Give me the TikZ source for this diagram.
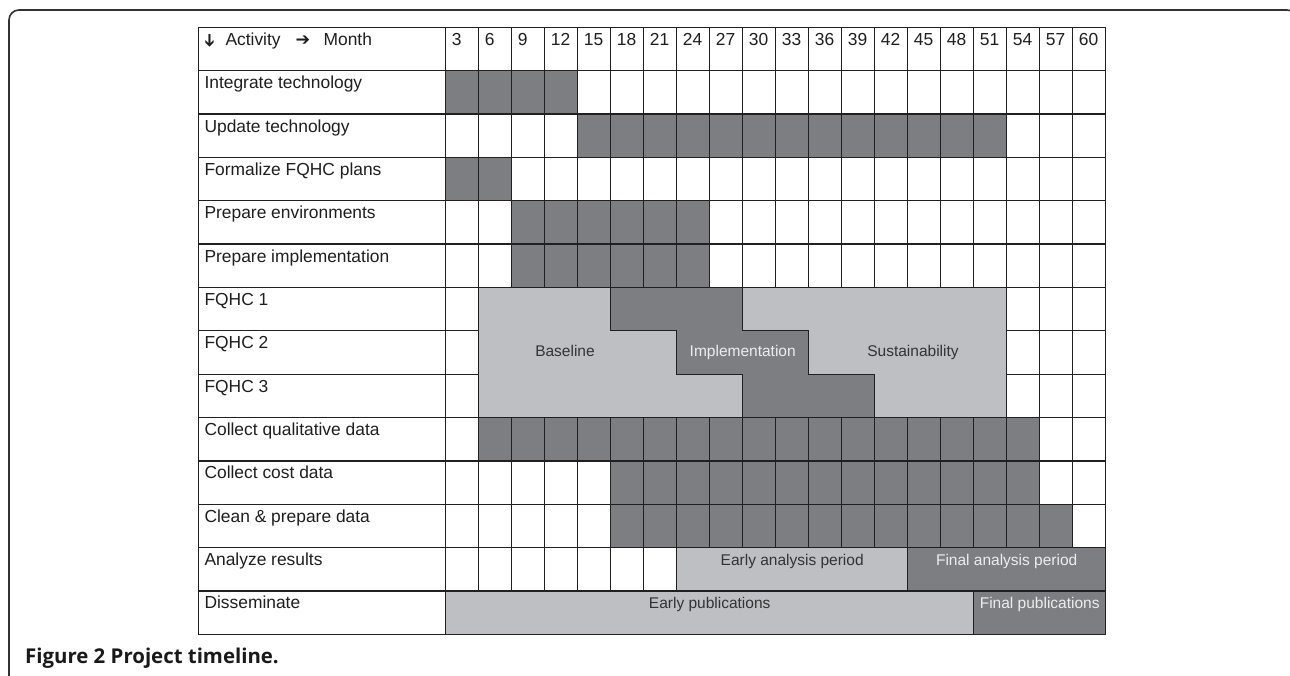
\documentclass[tikz,border=0pt]{standalone}
\usepackage{fontspec}
\setmainfont{Liberation Sans}
\newfontfamily\capfont{Open Sans}
\newfontfamily\symfont{DejaVu Sans}
\definecolor{BarClr}{rgb}{0.49,0.494,0.51}
\definecolor{PhaseClr}{rgb}{0.745,0.749,0.765}
\definecolor{RuleClr}{rgb}{0.13,0.12,0.125}

\begin{document}
\begin{tikzpicture}[x=1pt,y=-1pt,
  grid line/.style={draw=RuleClr,line width=1.3pt},
  bar/.style={fill=BarClr},
  phase/.style={fill=PhaseClr},
  cell text/.style={anchor=base west,inner sep=0pt,font=\fontsize{17.4}{20}\selectfont,text=black!88},
  phase text/.style={anchor=base,inner sep=0pt,font=\fontsize{15.5}{18}\selectfont,text=black!80},
  bar text/.style={phase text,text=white!93!black}]
\useasboundingbox (0,0) rectangle (1290,676);
\clip (0,0) rectangle (1290,676);
\fill[white] (0,0) rectangle (1290,676);

% frame and caption
\draw[line width=1.6pt,draw=black!80,rounded corners=10pt] (9,700) -- (9,10) -- (1297,10) -- (1297,700);
\node[anchor=base west,inner sep=0pt,font=\capfont\bfseries\fontsize{20.4}{24}\selectfont,text=black!90] (caption) at (25,663) {Figure 2 Project timeline.};

\begin{scope}[shift={(445.7,27.3)},x=33pt,y=-43.36pt]
% activity bars
\foreach \r/\a/\b in {1/0/4,2/4/17,3/0/2,4/2/8,5/2/8,9/1/18,10/5/18,11/5/19}
  \fill[bar] (\a,\r) rectangle (\b,\r+1);

% grid
\foreach \j in {1,...,13} \draw[grid line] (-7.496,\j) -- (20,\j);
\foreach \k in {0,...,19} \draw[grid line] (\k,0) -- (\k,14);

% FQHC phases
\fill[phase] (1,6) rectangle (17,9);
\filldraw[bar,grid line] (5,6) -| (9,7) -| (11,8) -| (13,9) -| (9,8) -| (7,7) -| (5,6) -- cycle;
\draw[grid line] (1,6) rectangle (17,9);

% analysis and dissemination
\fill[phase] (7,12) rectangle (14,13);
\fill[bar] (14,12) rectangle (20,13);
\draw[grid line] (7,12) rectangle (20,13) (14,12) -- (14,13);
\fill[phase] (0,13) rectangle (16,14);
\fill[bar] (16,13) rectangle (20,14);
\draw[grid line] (0,13) rectangle (20,14) (16,13) -- (16,14);

\draw[grid line] (-7.496,0) rectangle (20,14);

% header
\node[cell text] (hdr) at ([xshift=6pt,yshift=-18pt]-7.496,0)
  {\makebox[21pt][l]{\rotatebox[origin=c]{-90}{\symfont\bfseries ➔}}Activity\hspace{15pt}\makebox[28pt][l]{\symfont\bfseries ➔}Month};
\foreach \m [count=\k] in {3,6,...,60}
  \node[cell text] (month-\k) at ([xshift=6pt,yshift=-18pt]\k-1,0) {\m};

% activities
\foreach \lbl [count=\j] in {Integrate technology,Update technology,Formalize FQHC plans,
  Prepare environments,Prepare implementation,FQHC 1,FQHC 2,FQHC 3,
  Collect qualitative data,Collect cost data,Clean \& prepare data,Analyze results,Disseminate}
  \node[cell text] (act-\j) at ([xshift=6pt,yshift=-18pt]-7.496,\j) {\lbl};

% phase labels
\node[phase text] (baseline) at ([yshift=-26pt]3.615,7) {Baseline};
\node[bar text] (implement) at ([yshift=-26pt]9,7) {Implementation};
\node[phase text] (sustain) at ([yshift=-26pt]14.16,7) {Sustainability};
\node[phase text] (early-ana) at ([yshift=-17.5pt]10.5,12) {Early analysis period};
\node[bar text] (final-ana) at ([yshift=-17.5pt]17,12) {Final analysis period};
\node[phase text] (early-pub) at ([yshift=-17.5pt]8,13) {Early publications};
\node[bar text] (final-pub) at ([yshift=-17.5pt]18,13) {Final publications};
\end{scope}
\end{tikzpicture}
\end{document}
